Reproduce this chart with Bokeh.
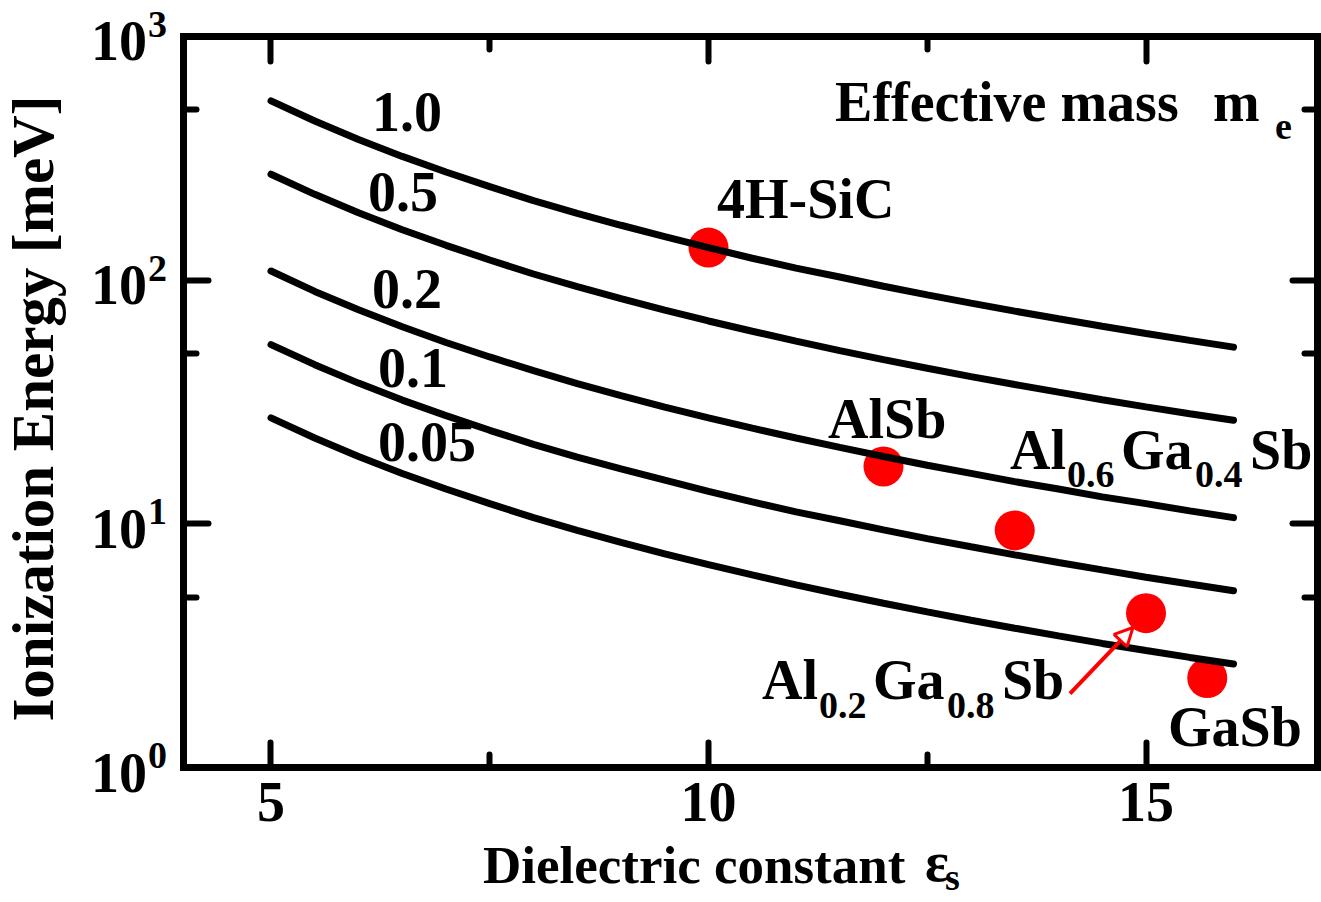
from bokeh.plotting import figure
from bokeh.models import (Label, LinearAxis, LogAxis, FixedTicker, Arrow, NormalHead,
                          Range1d, ColumnDataSource, CustomJSTickFormatter)
from bokeh.embed import file_html
from bokeh.resources import INLINE
import math

# Dielectric constant grid for the hydrogenic ionization-energy curves
eps_grid = [5.0, 5.5, 6.0, 6.5, 7.0, 7.5, 8.0, 8.5, 9.0, 9.5, 10.0, 10.5,
            11.0, 11.5, 12.0, 12.5, 13.0, 13.5, 14.0, 14.5, 15.0, 15.5, 16.0]

# Ionization energy [meV] for each effective mass
e_m100 = [544, 450, 378, 322, 278, 242, 212, 188, 168, 151, 136, 123,
          112, 103, 94.4, 87.0, 80.5, 74.6, 69.4, 64.7, 60.4, 56.6, 53.1]
e_m050 = [272, 225, 189, 161, 139, 121, 106, 94.1, 84.0, 75.3, 68.0, 61.7,
          56.2, 51.4, 47.2, 43.5, 40.2, 37.3, 34.7, 32.3, 30.2, 28.3, 26.6]
e_m020 = [109, 89.9, 75.6, 64.4, 55.5, 48.4, 42.5, 37.6, 33.6, 30.1, 27.2, 24.7,
          22.5, 20.6, 18.9, 17.4, 16.1, 14.9, 13.9, 12.9, 12.1, 11.3, 10.6]
e_m010 = [54.4, 45.0, 37.8, 32.2, 27.8, 24.2, 21.2, 18.8, 16.8, 15.1, 13.6, 12.3,
          11.2, 10.3, 9.44, 8.70, 8.05, 7.46, 6.94, 6.47, 6.04, 5.66, 5.31]
e_m005 = [27.2, 22.5, 18.9, 16.1, 13.9, 12.1, 10.6, 9.41, 8.40, 7.53, 6.80, 6.17,
          5.62, 5.14, 4.72, 4.35, 4.02, 3.73, 3.47, 3.23, 3.02, 2.83, 2.66]
mass_labels = ["1.0", "0.5", "0.2", "0.1", "0.05"]

# Materials
materials = ["4H-SiC", "AlSb", "Al0.6Ga0.4Sb", "Al0.2Ga0.8Sb", "GaSb"]
mat_eps = [10.0, 12.0, 13.5, 15.0, 15.7]
mat_energy = [136, 17.2, 9.4, 4.3, 2.33]

# plotting box and ticks
x_box = (4.0, 16.96)
y_box = (1, 1000)
x_ticks = [5, 10, 15]
x_minor = [7.5, 12.5]
y_ticks = [1, 10, 100, 1000]
y_minor = [5, 50, 500]
y_exponents = ["0", "1", "2", "3"]

FONT = "Liberation Serif"
BIG = 56
SUB = 38
# baseline correction for Label text (px) by font size
BASE = {56: 21, 38: 9, 53: 18, 59: 23}

# the data frame fills the whole canvas; the box is drawn by fixed-location axes
p = figure(y_axis_type="log", x_axis_location=None, y_axis_location=None,
           x_range=Range1d(1.9086, 17.0057), y_range=Range1d(0.27925, 1405.0),
           frame_width=1321, frame_height=902, min_border=0,
           output_backend="svg", toolbar_location=None,
           background_fill_color="white", border_fill_color="white")
p.grid.visible = False
p.outline_line_color = None


def make_axis(ax, major, minor, loc, bounds):
    ax.ticker = FixedTicker(ticks=major, minor_ticks=minor)
    ax.formatter = CustomJSTickFormatter(code="return '';")
    ax.fixed_location = loc
    ax.bounds = bounds
    ax.axis_line_width = 7
    ax.axis_line_cap = "square"
    ax.major_tick_in = 25
    ax.major_tick_out = 0
    ax.minor_tick_in = 13
    ax.minor_tick_out = 0
    ax.major_tick_line_width = 6
    ax.minor_tick_line_width = 6
    ax.major_tick_line_cap = "round"
    ax.minor_tick_line_cap = "round"
    ax.major_label_standoff = 0
    return ax


p.add_layout(make_axis(LinearAxis(), x_ticks, x_minor, y_box[0], x_box), "below")
p.add_layout(make_axis(LinearAxis(), x_ticks, x_minor, y_box[1], x_box), "above")
p.add_layout(make_axis(LogAxis(), y_ticks, y_minor, x_box[0], y_box), "left")
p.add_layout(make_axis(LogAxis(), y_ticks, y_minor, x_box[1], y_box), "right")

# material points (under the curves)
src = ColumnDataSource(dict(x=mat_eps, y=mat_energy))
p.scatter("x", "y", source=src, size=40, fill_color="#ff0000", line_color=None)

# constant effective-mass curves
for ys in [e_m100, e_m050, e_m020, e_m010, e_m005]:
    p.line(eps_grid, ys, line_color="black", line_width=7, line_cap="round")


def add_text(x, y, text, size=BIG, dx=0, dy=0, align="left", angle=0.0):
    corr = BASE[size]
    if angle:
        dx, dy = dx - corr, dy
    else:
        dy = dy + corr
    p.add_layout(Label(x=x, y=y, x_offset=dx, y_offset=dy, text=text,
                       text_font=FONT, text_font_style="bold",
                       text_font_size=f"{size}px",
                       text_color="black", text_align=align,
                       text_baseline="alphabetic", angle=angle))


# curve labels
label_pos = [(6.154, 400), (6.109, 188), (6.154, 75.1), (6.223, 35.9), (6.223, 17.7)]
for (lx, ly), t in zip(label_pos, mass_labels):
    add_text(lx, ly, t)

add_text(11.446, 440, "Effective mass")
add_text(15.766, 440, "m")
add_text(16.474, 440, "e", size=SUB, dy=-12)

# material labels
add_text(10.097, 176, "4H-SiC")
add_text(11.366, 22.0, "AlSb")
add_text(15.251, 1.208, "GaSb")


def add_formula(x, y, parts):
    offs = [0, 57, 111, 185, 240]
    for i, (t, o) in enumerate(zip(parts, offs)):
        sub = i % 2 == 1
        add_text(x, y, t, size=SUB if sub else BIG, dx=o, dy=-13 if sub else 0)


add_formula(13.446, 16.55, ["Al", "0.6", "Ga", "0.4", "Sb"])
add_formula(10.611, 1.87, ["Al", "0.2", "Ga", "0.8", "Sb"])

p.add_layout(Arrow(end=NormalHead(size=18, fill_alpha=0, line_color="#ff0000",
                                  line_width=3),
                   x_start=14.131, y_start=2.012, x_end=14.851, y_end=3.754,
                   line_color="#ff0000", line_width=4))

# tick labels
for t in x_ticks:
    add_text(t, 1, str(t), align="center", dy=-55)
for t, e in zip(y_ticks, y_exponents):
    add_text(3.583, t, "10", align="right", dy=-26)
    add_text(3.595, t, e, size=SUB, dy=3)

# axis titles
add_text(7.423, 1, "Dielectric constant", size=53, dy=-115)
add_text(12.474, 1, "\u03b5", dy=-115)
add_text(12.703, 1, "s", size=SUB, dy=-118)
add_text(2.543, 29.7, "Ionization Energy [meV]", size=59, align="center",
         angle=math.pi / 2)

open("out.html", "w").write(file_html(p, INLINE))
